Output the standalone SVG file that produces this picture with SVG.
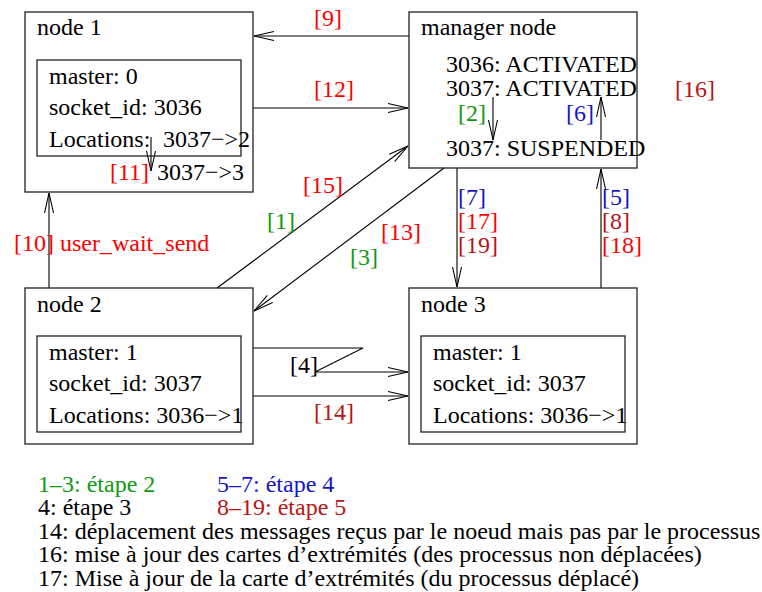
<svg xmlns="http://www.w3.org/2000/svg" width="762" height="592" viewBox="0 0 762 592">
<style>
text{font-family:"Liberation Serif","Times New Roman",serif;font-size:24px;fill:#000}
.box{fill:none;stroke:#222;stroke-width:1.3}
.ln{fill:none;stroke:#000;stroke-width:1.1}
.r{fill:#ff0000}
.dr{fill:#b81414}
.g{fill:#109a10}
.b{fill:#1515c8}
</style>
<defs>
<marker id="ah" viewBox="-21 -6 22 12" markerWidth="22" markerHeight="12" refX="0" refY="0" orient="auto" markerUnits="userSpaceOnUse">
<path d="M-20,-4.5 L0,0 L-20,4.5" fill="none" stroke="#000" stroke-width="1.1"/>
</marker>
</defs>
<rect width="762" height="592" fill="#fff"/>

<g id="connectors">
<line class="ln" x1="409" y1="36" x2="254" y2="36" marker-end="url(#ah)"/>
<line class="ln" x1="253" y1="108" x2="408" y2="108" marker-end="url(#ah)"/>
<line class="ln" x1="49" y1="288" x2="49" y2="193" marker-end="url(#ah)"/>
<line class="ln" x1="217" y1="288" x2="408" y2="146" marker-end="url(#ah)"/>
<line class="ln" x1="444" y1="168" x2="254" y2="311" marker-end="url(#ah)"/>
<line class="ln" x1="457" y1="168" x2="457" y2="287" marker-end="url(#ah)"/>
<line class="ln" x1="601" y1="288" x2="601" y2="169" marker-end="url(#ah)"/>
<polyline class="ln" points="253,348 363,348 315,372 408,372" marker-end="url(#ah)"/>
<line class="ln" x1="253" y1="396" x2="408" y2="396" marker-end="url(#ah)"/>
<line class="ln" x1="493" y1="97" x2="493" y2="140" marker-end="url(#ah)"/>
<line class="ln" x1="601" y1="140" x2="601" y2="97" marker-end="url(#ah)"/>
<line class="ln" x1="151" y1="137" x2="151" y2="171" marker-end="url(#ah)"/>
<text class="r" x="314" y="26">[9]</text>
<text class="r" x="314" y="97">[12]</text>
<text class="dr" x="675" y="97">[16]</text>
<text class="g" x="458" y="121">[2]</text>
<text class="b" x="566" y="121">[6]</text>
<text class="b" x="458" y="205">[7]</text>
<text class="r" x="458" y="229">[17]</text>
<text class="dr" x="458" y="253">[19]</text>
<text class="b" x="602" y="205">[5]</text>
<text class="dr" x="602" y="229">[8]</text>
<text class="r" x="602" y="253">[18]</text>
<text class="r" x="303" y="193">[15]</text>
<text class="g" x="267" y="229">[1]</text>
<text class="r" x="381" y="240">[13]</text>
<text class="g" x="350" y="265">[3]</text>
<text x="290" y="373">[4]</text>
<text class="dr" x="314" y="420">[14]</text>
<text class="r" x="14" y="251">[10] user_wait_send</text>
<text class="r" x="110" y="180">[11]</text>
</g>

<g id="node1">
<rect class="box" x="25" y="12" width="228" height="180"/>
<rect class="box" x="37" y="60" width="204" height="96"/>
<text x="37" y="35">node 1</text>
<text x="49" y="84">master: 0</text>
<text x="49" y="115">socket_id: 3036</text>
<text x="49" y="147">Locations:</text>
<text x="163" y="147">3037−&gt;2</text>
<text x="157" y="180">3037−&gt;3</text>
</g>

<g id="manager">
<rect class="box" x="409" y="12" width="228" height="156"/>
<text x="421" y="35">manager node</text>
<text x="446" y="72">3036: ACTIVATED</text>
<text x="446" y="96">3037: ACTIVATED</text>
<text x="446" y="156">3037: SUSPENDED</text>
</g>

<g id="node2">
<rect class="box" x="25" y="288" width="228" height="156"/>
<rect class="box" x="37" y="336" width="204" height="96"/>
<text x="37" y="312">node 2</text>
<text x="49" y="360">master: 1</text>
<text x="49" y="391">socket_id: 3037</text>
<text x="49" y="423">Locations: 3036−&gt;1</text>
</g>

<g id="node3">
<rect class="box" x="409" y="288" width="228" height="156"/>
<rect class="box" x="421" y="336" width="204" height="96"/>
<text x="421" y="312">node 3</text>
<text x="433" y="360">master: 1</text>
<text x="433" y="391">socket_id: 3037</text>
<text x="433" y="423">Locations: 3036−&gt;1</text>
</g>

<g id="legend">
<text class="g" x="38" y="491.5">1–3: étape 2</text>
<text class="b" x="217" y="491.5">5–7: étape 4</text>
<text x="38" y="515">4: étape 3</text>
<text class="dr" x="217" y="515">8–19: étape 5</text>
<text x="38" y="538.5">14: déplacement des messages reçus par le noeud mais pas par le processus</text>
<text x="38" y="562">16: mise à jour des cartes d’extrémités (des processus non déplacées)</text>
<text x="38" y="585.5">17: Mise à jour de la carte d’extrémités (du processus déplacé)</text>
</g>
</svg>
